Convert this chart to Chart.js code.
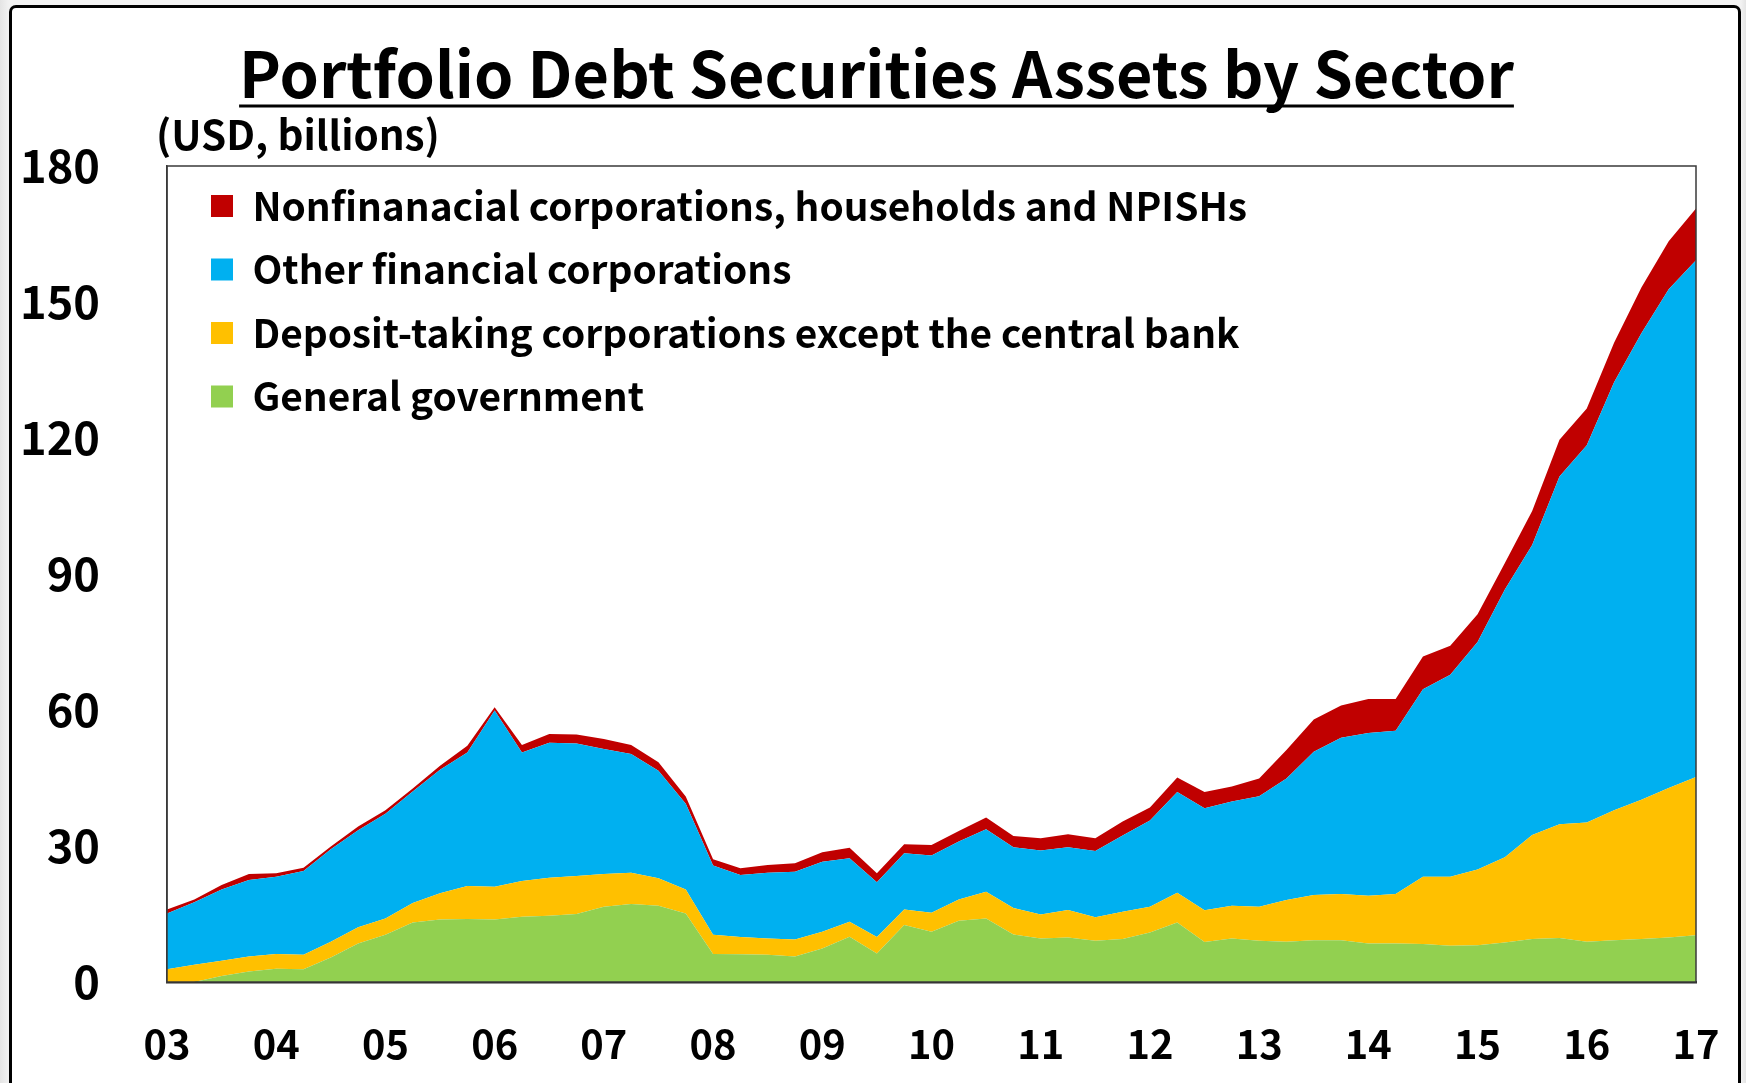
<!DOCTYPE html>
<html>
<head>
<meta charset="utf-8">
<script src="https://cdn.jsdelivr.net/npm/chart.js@4.4.1/dist/chart.umd.min.js"></script>
<style>
  html, body { margin: 0; padding: 0; width: 1746px; height: 1083px; overflow: hidden;
    background: linear-gradient(90deg, #e4e4e4 0px, #f2f2f2 9px, #f2f2f2 1741px, #e4e4e4 1746px); }
  #frame { position: absolute; left: 9px; top: 5px; width: 1726px; height: 1200px;
    border: 3px solid #000; border-radius: 7px; background: #fff; box-sizing: content-box; }
  #c { position: absolute; left: 0; top: 0; }
</style>
</head>
<body>
<div id="frame"></div>
<canvas id="c" width="1746" height="1083"></canvas>
<script>
// ---------------- DATA ----------------
const quarters = [
  '03.Q1','03.Q2','03.Q3','03.Q4','04.Q1','04.Q2','04.Q3','04.Q4',
  '05.Q1','05.Q2','05.Q3','05.Q4','06.Q1','06.Q2','06.Q3','06.Q4',
  '07.Q1','07.Q2','07.Q3','07.Q4','08.Q1','08.Q2','08.Q3','08.Q4',
  '09.Q1','09.Q2','09.Q3','09.Q4','10.Q1','10.Q2','10.Q3','10.Q4',
  '11.Q1','11.Q2','11.Q3','11.Q4','12.Q1','12.Q2','12.Q3','12.Q4',
  '13.Q1','13.Q2','13.Q3','13.Q4','14.Q1','14.Q2','14.Q3','14.Q4',
  '15.Q1','15.Q2','15.Q3','15.Q4','16.Q1','16.Q2','16.Q3','16.Q4',
  '17.Q1'
];
const tickLabels = ['03','04','05','06','07','08','09','10','11','12','13','14','15','16','17'];
const yTicks = [0, 30, 60, 90, 120, 150, 180];

const seriesNames = [
  'General government',
  'Deposit-taking corporations except the central bank',
  'Other financial corporations',
  'Nonfinanacial corporations, households and NPISHs'
];

const generalGov = [
  0, 0, 1.3, 2.3, 2.9, 2.8, 5.4, 8.5, 10.4, 13.1, 13.8, 13.9, 13.8, 14.4, 14.6, 15.0,
  16.6, 17.2, 16.8, 15.1, 6.2, 6.1, 6.0, 5.6, 7.4, 10.0, 6.3, 12.6, 11.1, 13.5, 14.0, 10.5,
  9.6, 9.8, 9.1, 9.5, 10.9, 13.1, 8.8, 9.6, 9.1, 8.9, 9.2, 9.2, 8.5, 8.5, 8.4, 8.0,
  8.1, 8.7, 9.5, 9.7, 8.9, 9.2, 9.5, 9.8, 10.3
];
const depositTaking = [
  2.8, 3.8, 3.4, 3.3, 3.3, 3.2, 3.5, 3.6, 3.6, 4.3, 5.8, 7.3, 7.2, 7.9, 8.4, 8.4,
  7.2, 6.9, 6.1, 5.3, 4.2, 3.8, 3.6, 3.8, 3.7, 3.3, 3.6, 3.4, 4.2, 4.7, 5.9, 5.8,
  5.3, 6.1, 5.2, 6.0, 5.7, 6.6, 7.0, 7.2, 7.5, 9.2, 10.0, 10.2, 10.5, 10.9, 14.8, 15.2,
  16.7, 18.8, 22.9, 25.1, 26.3, 28.7, 30.7, 33.0, 34.9
];
const otherFinancial = [
  12.3, 13.8, 15.7, 16.9, 17.0, 18.5, 20.4, 21.4, 23.1, 24.6, 27.2, 29.4, 38.9, 28.3, 29.8, 29.2,
  27.6, 26.2, 23.7, 18.9, 15.3, 13.7, 14.5, 14.9, 15.4, 14.0, 12.1, 12.4, 12.6, 12.8, 13.8, 13.4,
  14.1, 13.8, 14.6, 16.8, 19.0, 22.2, 22.5, 23.0, 24.4, 26.8, 31.6, 34.5, 35.9, 36.0, 41.4, 44.6,
  50.2, 59.1, 64.0, 76.7, 83.2, 94.4, 102.9, 110.0, 114.0
];
const nonFinancial = [
  0.9, 0.6, 1.0, 1.3, 0.8, 0.7, 0.6, 0.8, 0.8, 0.7, 0.9, 1.5, 0.7, 1.7, 1.9, 2.0,
  2.2, 2.0, 1.9, 1.6, 1.4, 1.5, 1.7, 1.9, 2.1, 2.3, 2.0, 2.0, 2.3, 2.3, 2.6, 2.5,
  2.7, 2.9, 2.8, 3.1, 2.9, 3.2, 3.6, 3.3, 3.9, 6.3, 7.1, 7.1, 7.5, 7.0, 7.2, 6.4,
  6.1, 5.8, 7.5, 8.1, 8.1, 8.7, 10.1, 10.6, 11.4
];

const titleText = 'Portfolio Debt Securities Assets by Sector';
const unitText = '(USD, billions)';

// ---------------- STYLE ----------------
const FAMILY = "'Noto Sans CJK KR', 'Noto Sans', sans-serif";
const colors = ['#92D050', '#FFC000', '#00B0F0', '#C00000'];

function fitSize(text, target) {
  const ctx = document.createElement('canvas').getContext('2d');
  ctx.font = 'bold 100px ' + FAMILY;
  return 100 * target / ctx.measureText(text).width;
}

const AREA = { left: 167, right: 1696, top: 166, bottom: 982 };
const titleSize = fitSize(titleText, 1275);
const unitSize = fitSize(unitText, 284);
const legendSize = Math.min(fitSize(seriesNames[3], 995), 40);
const yTickSize = fitSize('180', 80);
const xTickSize = fitSize('03', 47);
const LEG_ROW = 63.5;
const legendPad = LEG_ROW - legendSize;
const BOX = 22;

const textPlugin = {
  id: 'texts',
  afterLayout(chart) {
    const lg = chart.legend;
    if (lg) {
      const ca = chart.chartArea;
      lg.top = 206 - legendSize / 2 - legendPad;
      lg.left = 211 - legendPad;
      lg.right = ca.right;
      lg.bottom = ca.bottom;
      lg.width = lg.right - lg.left;
      lg.height = lg.bottom - lg.top;
    }
  },
  afterDatasetsDraw(chart) {
    const ctx = chart.ctx;
    const ca = chart.chartArea;
    ctx.save();
    ctx.strokeStyle = '#3a3a3a';
    ctx.lineWidth = 1.5;
    ctx.strokeRect(ca.left, ca.top, ca.right - ca.left, ca.bottom - ca.top);
    ctx.restore();
  },
  afterDraw(chart) {
    const ctx = chart.ctx;
    ctx.save();
    ctx.fillStyle = '#000';
    ctx.textBaseline = 'alphabetic';
    // title
    ctx.font = 'bold ' + titleSize + 'px ' + FAMILY;
    ctx.textAlign = 'center';
    const cx = 876.5;
    ctx.fillText(titleText, cx, 98);
    const w = ctx.measureText(titleText).width;
    ctx.fillRect(cx - w / 2, 104.5, w, 3);
    // unit
    ctx.font = 'bold ' + unitSize + 'px ' + FAMILY;
    ctx.textAlign = 'left';
    ctx.fillText(unitText, 156, 150);
    ctx.restore();
  }
};

const datasets = [generalGov, depositTaking, otherFinancial, nonFinancial].map((arr, i) => ({
  label: seriesNames[i],
  data: arr,
  backgroundColor: colors[i],
  borderColor: colors[i],
  borderWidth: 0,
  pointRadius: 0,
  pointHoverRadius: 0,
  tension: 0,
  fill: i === 0 ? 'origin' : '-1'
}));

new Chart(document.getElementById('c'), {
  type: 'line',
  data: { labels: quarters, datasets },
  plugins: [textPlugin],
  options: {
    responsive: false,
    animation: false,
    devicePixelRatio: 1,
    layout: { padding: { top: AREA.top, right: 1746 - AREA.right, bottom: 0, left: 0 } },
    plugins: {
      title: { display: false },
      tooltip: { enabled: false },
      legend: {
        display: true,
        position: 'chartArea',
        align: 'start',
        reverse: true,
        labels: {
          boxWidth: BOX,
          boxHeight: BOX,
          padding: legendPad,
          color: '#000',
          font: { family: FAMILY, size: legendSize, weight: 'bold' }
        }
      }
    },
    scales: {
      x: {
        type: 'category',
        offset: false,
        grid: { display: false, drawTicks: false },
        border: { display: true, color: '#2a2a2a', width: 2.5 },
        afterFit(s) { s.height = 1083 - AREA.bottom; s.paddingLeft = 0; s.paddingRight = 0; },
        ticks: {
          autoSkip: false,
          maxRotation: 0,
          minRotation: 0,
          color: '#000',
          padding: 62 - 0.6 * xTickSize,
          font: { family: FAMILY, size: xTickSize, weight: 'bold' },
          callback: (v, i) => (i % 4 === 0 ? tickLabels[i / 4] : '')
        }
      },
      y: {
        stacked: true,
        min: 0,
        max: 180,
        grid: { display: false, drawTicks: false },
        border: { display: true, color: '#3a3a3a', width: 1.5 },
        afterFit(s) { s.width = AREA.left; s.paddingTop = 0; s.paddingBottom = 0; },
        afterBuildTicks(s) { s.ticks = yTicks.map(v => ({ value: v })); },
        ticks: {
          color: '#000',
          padding: AREA.left - 100,
          font: { family: FAMILY, size: yTickSize, weight: 'bold' }
        }
      }
    }
  }
});
</script>
</body>
</html>
